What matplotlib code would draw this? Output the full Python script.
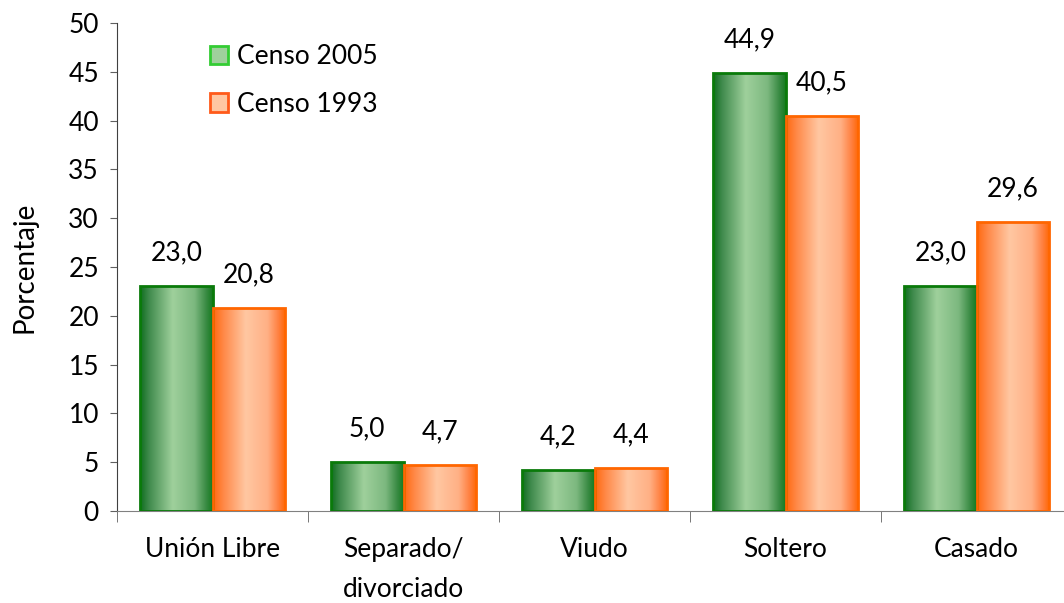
import numpy as np
import matplotlib.pyplot as plt
from matplotlib.colors import LinearSegmentedColormap
from matplotlib.patches import Patch
from matplotlib.legend_handler import HandlerPatch

plt.rcParams['font.family'] = ['Lato', 'DejaVu Sans']

categorias = ['Unión Libre', 'Separado/\ndivorciado', 'Viudo', 'Soltero', 'Casado']
censo_2005 = [23.0, 5.0, 4.2, 44.9, 23.0]
censo_1993 = [20.8, 4.7, 4.4, 40.5, 29.6]
series = ['Censo 2005', 'Censo 1993']

# degradados tipo "cilindro" de Excel
cmap_verde = LinearSegmentedColormap.from_list(
    'verde', [(0, '#0f6e1e'), (0.12, '#3f8a4c'), (0.45, '#9fd09c'),
              (0.75, '#7cb87f'), (0.9, '#3d8d47'), (1, '#157a1f')])
cmap_naranja = LinearSegmentedColormap.from_list(
    'naranja', [(0, '#ff6a10'), (0.15, '#ff8a4a'), (0.45, '#ffc7a2'),
                (0.75, '#ffb085'), (0.9, '#ff8040'), (1, '#ff6600')])

fs = 19

fig = plt.figure(figsize=(10.64, 6.03), dpi=100)
ax = fig.add_axes([0.110, 0.1526, 0.8976, 0.8093])

x = np.arange(len(categorias))
w = 0.38
grad = np.linspace(0, 1, 256).reshape(1, -1)

for vals, off, cmap, edge in [(censo_2005, -w / 2, cmap_verde, '#0a7a0a'),
                              (censo_1993, w / 2, cmap_naranja, '#ff6600')]:
    bars = ax.bar(x + off, vals, w, facecolor='none', edgecolor=edge,
                  linewidth=2, zorder=3)
    for b in bars:
        x0, y0 = b.get_x(), b.get_y()
        im = ax.imshow(grad, extent=[x0, x0 + b.get_width(), y0, y0 + b.get_height()],
                       aspect='auto', cmap=cmap, zorder=2, interpolation='bicubic')
        im.set_clip_path(b)
        ax.annotate(f'{b.get_height():.1f}'.replace('.', ','),
                    (x0 + b.get_width() / 2, b.get_height()),
                    xytext=(0, 15), textcoords='offset points',
                    ha='center', va='bottom', fontsize=fs)

ax.set_xlim(-0.5, len(categorias) - 0.5)
ax.set_ylim(0, 50)
ax.set_yticks(range(0, 51, 5))
ax.tick_params(axis='y', labelsize=fs, length=5, color='#606060', pad=8)
ax.set_xticks(x)
ax.set_xticklabels(categorias, fontsize=fs, linespacing=1.75)
ax.set_xticks(np.arange(-0.5, len(categorias)), minor=True)
ax.tick_params(axis='x', which='major', length=0, pad=19)
ax.tick_params(axis='x', which='minor', length=8, color='#606060')
for s in ['top', 'right']:
    ax.spines[s].set_visible(False)
ax.spines['left'].set_color('#404040')
ax.spines['bottom'].set_color('#808080')
ax.set_ylabel('Porcentaje', fontsize=20, labelpad=22)


class HandlerGrad(HandlerPatch):
    def __init__(self, cmap, **kw):
        self.cmap = cmap
        super().__init__(**kw)

    def create_artists(self, legend, orig, xd, yd, width, height, fontsize, trans):
        s = min(width, height)
        p = plt.Rectangle((xd + (width - s) / 2, yd), s, s, transform=trans,
                          facecolor=self.cmap(0.45), edgecolor=orig.get_edgecolor(),
                          linewidth=2)
        return [p]


handles = [Patch(facecolor='#9fd09c', edgecolor='#33cc33'),
           Patch(facecolor='#ffc7a2', edgecolor='#ff5a1a')]
leg = ax.legend(handles, series, loc='upper left', bbox_to_anchor=(0.072, 1.005),
                frameon=False, fontsize=fs, labelspacing=0.85, handlelength=0.7,
                handleheight=0.7, handletextpad=0.35,
                handler_map={handles[0]: HandlerGrad(cmap_verde),
                             handles[1]: HandlerGrad(cmap_naranja)})

fig.savefig('out.png', dpi=100, facecolor='white')
